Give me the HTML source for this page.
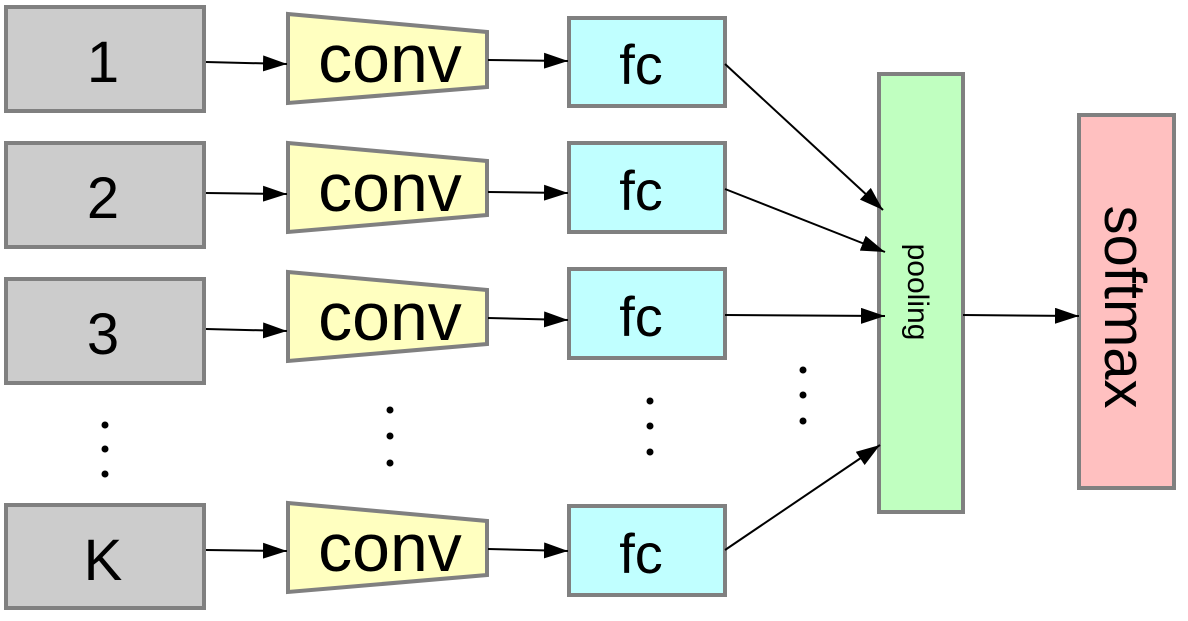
<!DOCTYPE html>
<html><head><style>body{margin:0;background:#fff}</style></head><body>
<svg width="1188" height="616" viewBox="0 0 1188 616" xmlns="http://www.w3.org/2000/svg" font-family="Liberation Sans, sans-serif">
<defs><marker id="a" markerWidth="24" markerHeight="16" refX="24" refY="8" orient="auto" markerUnits="userSpaceOnUse"><path d="M0,0 L24,8 L0,16 z" fill="#000"/></marker></defs>
<g stroke="#808080" stroke-width="4">
<rect x="6" y="7" width="198" height="104" fill="#ccc"/>
<rect x="6" y="143" width="198" height="104" fill="#ccc"/>
<rect x="6" y="279" width="198" height="104" fill="#ccc"/>
<rect x="6" y="505" width="198" height="103" fill="#ccc"/>
<polygon points="288,14 487,32 487,87 288,103" fill="#ffffc0"/>
<polygon points="288,143 487,161 487,215 288,232" fill="#ffffc0"/>
<polygon points="288,272 487,290 487,344 288,361" fill="#ffffc0"/>
<polygon points="288,503 487,521 487,575 288,592" fill="#ffffc0"/>
<rect x="569" y="18" width="156" height="88" fill="#c0ffff"/>
<rect x="569" y="143" width="156" height="89" fill="#c0ffff"/>
<rect x="569" y="269" width="156" height="89" fill="#c0ffff"/>
<rect x="569" y="506" width="156" height="89" fill="#c0ffff"/>
<rect x="879" y="74" width="84" height="438" fill="#c0ffc0"/>
<rect x="1079" y="115" width="95" height="373" fill="#ffc0c0"/>
</g>
<g font-size="58" text-anchor="middle" fill="#000">
<text x="103" y="82">1</text><text x="103" y="218">2</text><text x="103" y="354">3</text><text x="103" y="580">K</text>
</g>
<g font-size="68" text-anchor="middle"><text x="390" y="82">conv</text><text x="390" y="211">conv</text><text x="390" y="340">conv</text><text x="390" y="571">conv</text></g>
<g font-size="56" text-anchor="middle"><text x="641" y="84">fc</text><text x="641" y="210">fc</text><text x="641" y="336">fc</text><text x="641" y="573">fc</text></g>
<text transform="translate(908,292) rotate(90)" font-size="30" text-anchor="middle">pooling</text>
<text transform="translate(1105,307) rotate(90)" font-size="58" text-anchor="middle">softmax</text>
<g stroke="#000" stroke-width="2" fill="none" marker-end="url(#a)">
<line x1="206" y1="62" x2="287" y2="64"/>
<line x1="206" y1="193" x2="287" y2="194"/>
<line x1="206" y1="329" x2="287" y2="331"/>
<line x1="206" y1="550" x2="287" y2="551"/>
<line x1="488" y1="60" x2="568" y2="61"/>
<line x1="488" y1="192" x2="568" y2="193"/>
<line x1="488" y1="318" x2="568" y2="320"/>
<line x1="488" y1="549" x2="568" y2="551"/>
<line x1="725" y1="64" x2="883" y2="210"/>
<line x1="725" y1="189" x2="885" y2="252"/>
<line x1="725" y1="315" x2="885" y2="316"/>
<line x1="725" y1="550" x2="880" y2="445"/>
<line x1="963" y1="315" x2="1079" y2="316"/>
</g>
<g fill="#000">
<circle cx="105" cy="425" r="3.5"/><circle cx="105" cy="449" r="3.5"/><circle cx="105" cy="474" r="3.5"/>
<circle cx="390" cy="410" r="3.5"/><circle cx="390" cy="436" r="3.5"/><circle cx="390" cy="463" r="3.5"/>
<circle cx="650" cy="401" r="3.5"/><circle cx="650" cy="426" r="3.5"/><circle cx="650" cy="452" r="3.5"/>
<circle cx="803" cy="370" r="3.5"/><circle cx="803" cy="395" r="3.5"/><circle cx="803" cy="421" r="3.5"/>
</g>
</svg>
</body></html>
